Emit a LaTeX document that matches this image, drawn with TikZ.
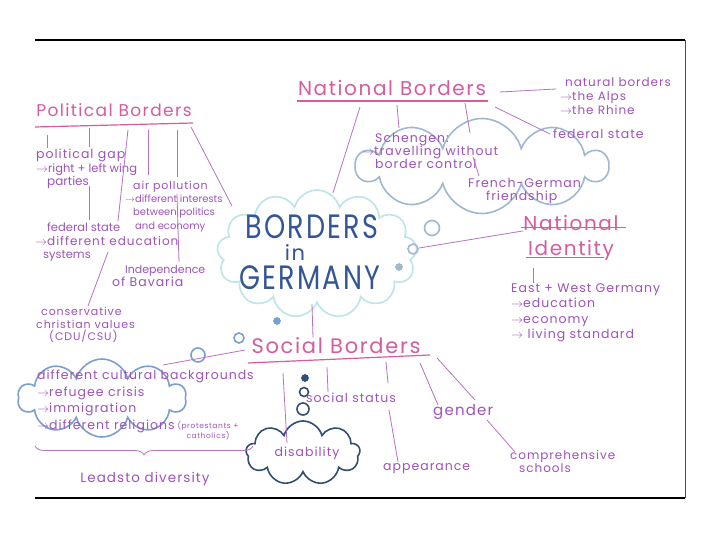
\documentclass[tikz,border=0pt]{standalone}
\usepackage{fontspec}
\setmainfont{Poppins}[LetterSpace=8]
\newfontfamily\tightfont{Poppins}
\usetikzlibrary{positioning,shapes.symbols,decorations.pathreplacing}
\definecolor{hdpink}{RGB}{214,92,160}
\definecolor{txpurple}{RGB}{158,82,186}
\definecolor{lnpurple}{RGB}{186,112,196}
\definecolor{cyancl}{RGB}{188,228,234}
\definecolor{greycl}{RGB}{158,184,210}
\definecolor{bluecl}{RGB}{122,160,208}
\definecolor{navycl}{RGB}{48,78,118}
\definecolor{ttlblue}{RGB}{52,86,150}
\newcommand{\tsz}[1]{\fontsize{#1}{13.5}\selectfont}

\begin{document}
\begin{tikzpicture}[x=1pt,y=-1pt,
  hd/.style={text=hdpink,inner sep=0pt,font=\fontsize{20}{21}\selectfont},
  tx/.style={text=txpurple,inner sep=0pt,align=left,anchor=north west,
    font=\fontsize{12.5}{13.5}\selectfont},
  ln/.style={draw=lnpurple,line width=0.8pt},
  ul/.style={draw=hdpink,line width=1.2pt},
  cl/.style={cloud,cloud ignores aspect,draw,line width=1.6pt},
  bub/.style={circle,draw,line width=1.6pt,inner sep=0pt},
  ttl/.style={text=ttlblue,inner sep=0pt,font=\fontsize{27}{27}\selectfont}]

\fill[white] (0,0) rectangle (720,540);
\useasboundingbox (0,0) rectangle (720,540);

% --- frame ---
\coordinate (tl) at (35,40);
\coordinate (tr) at (685,40);
\coordinate (br) at (685,498);
\coordinate (bl) at (35,498);
\draw[line width=1.5pt] (tl) -- (tr);
\draw[line width=1pt,black!70] (tr) -- (br);
\draw[line width=1.5pt] (bl) -- (br);

% --- clouds and bubbles ---
\node[cl,draw=cyancl,cloud puffs=13,minimum width=200pt,minimum height=128pt] (ctr) at (317,254) {};
\node[cl,draw=greycl,cloud puffs=10,minimum width=250pt,minimum height=95pt] (sch) at (482,166) {};
\node[cl,draw=bluecl,cloud puffs=10,minimum width=168pt,minimum height=78pt] (cul) at (102,398) {};
\node[cl,draw=navycl,cloud puffs=9,minimum width=114pt,minimum height=64pt] (dis) at (303,453) {};

\node[bub,draw=greycl,minimum size=15pt] (g1) at (432,228) {};
\node[bub,draw=greycl,minimum size=10pt] (g2) at (413,249) {};
\node[bub,draw=greycl,fill=greycl,minimum size=6pt] (g3) at (399,267) {};
\node[bub,draw=bluecl,minimum size=14pt] (b1) at (198,355) {};
\node[bub,draw=bluecl,minimum size=10pt] (b2) at (239,338) {};
\node[bub,draw=bluecl,fill=bluecl,minimum size=6pt] (b3) at (277,321) {};
\node[bub,draw=navycl,minimum size=12pt] (d1) at (303,409) {};
\node[bub,draw=navycl,minimum size=9pt] (d2) at (304,392) {};
\node[bub,draw=navycl,fill=navycl,minimum size=6pt] (d3) at (305,378) {};

% --- centre title ---
\node[ttl] (bo) at (312,227) {\scalebox{1}[1.25]{BORDERS}};
\node[ttl,font=\fontsize{21}{21}\selectfont] (gin) at (295,253) {in};
\node[ttl] (ge) at (310,278) {\scalebox{1}[1.25]{GERMANY}};

% --- political borders ---
\node[hd,font=\fontsize{17}{18}\selectfont] (polb) at (114,110) {Political Borders};
\coordinate (pl) at (35,127);
\coordinate (pr) at (193,123);
\draw[ul] (pl) -- (pr);
\node[tx] (gap) at (36,149) {political gap\\\tightfont\tsz{11.5}$\rightarrow$right + left wing\\\tightfont\tsz{12}\hspace{11pt}parties};
\node[tx] (airp) at (125,181) {\tsz{11}\hspace{8pt}air pollution\\[-1pt]
  \tightfont\fontsize{10}{12}\selectfont$\rightarrow$different interests\\\tightfont\fontsize{10}{12}\selectfont\hspace{8pt}between politics\\\tightfont\fontsize{10}{12}\selectfont\hspace{10pt}and economy};
\node[tx] (fedl) at (35,223) {\tightfont\tsz{11.5}\hspace{12pt}federal state\\\tsz{12}$\rightarrow$different education\\\tightfont\tsz{11.5}\hspace{8pt}systems};
\node[tx] (bav) at (112,265) {\tightfont\tsz{11}\hspace{13pt}Independence\\of Bavaria};
\node[tx,font=\fontsize{11}{12.5}\selectfont] (csu) at (36,307) {\hspace{5pt}conservative\\christian values\\\hspace{13pt}(CDU/CSU)};

\coordinate (p1) at (47,135);  \coordinate (q1) at (47,148);
\coordinate (p2) at (89,128);  \coordinate (q2) at (89,147);
\coordinate (p3) at (89,186);  \coordinate (q3) at (89,220);
\coordinate (p4) at (128,130); \coordinate (q4) at (118,221);
\coordinate (p5) at (148,130); \coordinate (q5) at (148,175);
\coordinate (p6) at (177,130); \coordinate (q6) at (177,177);
\coordinate (p7) at (177,194); \coordinate (q7) at (179,262);
\coordinate (p8) at (191,127); \coordinate (q8) at (232,206);
\coordinate (p9) at (108,252); \coordinate (q9) at (88,306);
\foreach \i in {1,...,9} \draw[ln] (p\i) -- (q\i);

% --- national borders ---
\node[hd] (natb) at (392,88) {National Borders};
\coordinate (nl) at (297,101);
\coordinate (nr) at (488,101);
\draw[ul] (nl) -- (nr);
\node[tx,font=\fontsize{12.5}{13}\selectfont] (sgn) at (362,133) {\hspace{13pt}Schengen:\\$\rightarrow$travelling without\\\hspace{13pt}border control};
\node[tx,font=\fontsize{12.5}{13}\selectfont] (frg) at (468,178) {French-German\\\hspace{18pt}friendship};
\node[tx,font=\fontsize{12}{14}\selectfont] (nat) at (560,77) {\hspace{5pt}natural borders\\$\rightarrow$the Alps\\$\rightarrow$the Rhine};
\node[tx] (fedr) at (553,129) {federal state};

\coordinate (n1) at (360,107); \coordinate (m1) at (333,193);
\coordinate (n2) at (397,105); \coordinate (m2) at (399,128);
\coordinate (n3) at (465,103); \coordinate (m3) at (470,133);
\coordinate (n4) at (473,157); \coordinate (m4) at (479,176);
\coordinate (n5) at (500,92);  \coordinate (m5) at (556,89);
\coordinate (n6) at (495,107); \coordinate (m6) at (550,134);
\foreach \i in {1,...,6} \draw[ln] (n\i) -- (m\i);

% --- national identity ---
\node[hd] (nid1) at (571,223) {National};
\node[hd] (nid2) at (571,250) {Identity};
\draw[ul] (nid1.south west) ++(-2,-3) -- ++(105,0);
\draw[ul] (nid2.south west) ++(-2,-3) -- ++(78,0);
\node[tx,font=\fontsize{12.5}{15.5}\selectfont] (ewg) at (511,283) {East + West Germany\\$\rightarrow$education\\$\rightarrow$economy\\$\rightarrow$ living standard};
\coordinate (i1) at (533,268);
\draw[ln] (i1) -- (ewg.north -| i1);
\draw[ln] (g2) -- (nid1.south west);

% --- social borders ---
\node[hd,font=\fontsize{21}{22}\selectfont] (socb) at (336,346) {Social Borders};
\coordinate (sl) at (248,363);
\coordinate (sr) at (430,355);
\draw[ul] (sl) -- (sr);
\node[tx] (sst) at (306,393) {social status};
\node[tx] (app) at (383,463) {appearance};
\node[tx,font=\fontsize{15}{16}\selectfont] (gdr) at (433,404) {gender};
\node[tx,font=\fontsize{12}{13}\selectfont] (cmp) at (510,450) {comprehensive\\\hspace{9pt}schools};
\node[text=txpurple,font=\fontsize{12.5}{13}\selectfont] (dsb) at (307,453) {disability};
\node[tx,font=\fontsize{12.5}{16.5}\selectfont] (cbk) at (37,370) {different cultural backgrounds\\$\rightarrow$refugee crisis\\$\rightarrow$immigration\\$\rightarrow$different religions};
\node[text=txpurple,inner sep=0pt,align=center,font=\fontsize{7.5}{8.5}\selectfont] (rel) at (208,431) {(protestants +\\catholics)};
\node[text=txpurple,inner sep=0pt,font=\fontsize{13.5}{14}\selectfont] (dvs) at (145,479) {Leadsto diversity};

\coordinate (s1) at (283,373); \coordinate (t1) at (287,443);
\coordinate (s2) at (327,367); \coordinate (t2) at (328,392);
\coordinate (s3) at (386,362); \coordinate (t3) at (388,383);
\coordinate (s4) at (389,410); \coordinate (t4) at (398,462);
\coordinate (s5) at (420,363); \coordinate (t5) at (438,405);
\coordinate (s6) at (437,358); \coordinate (t6) at (475,400);
\coordinate (s7) at (487,420); \coordinate (t7) at (515,452);
\coordinate (s8) at (245,350); \coordinate (t8) at (163,365);
\foreach \i in {1,...,8} \draw[ln] (s\i) -- (t\i);

\draw[ln] (ctr.south) ++(-5,0) -- (socb.north -| 313,0);
\draw[ln,decorate,decoration={brace,mirror,amplitude=9pt}] (35,446) -- (253,446);
\end{tikzpicture}
\end{document}
